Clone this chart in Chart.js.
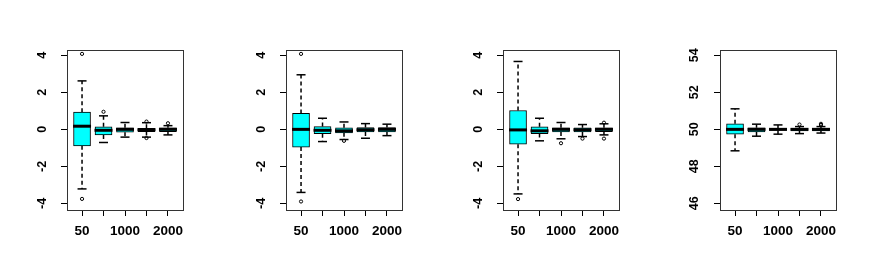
<!DOCTYPE html>
<html>
<head>
<meta charset="utf-8">
<script src="https://cdn.jsdelivr.net/npm/chart.js@4.4.1/dist/chart.umd.min.js"></script>
<style>
body { margin: 0; background: #fff; }
#wrap { position: relative; width: 871px; height: 273px; overflow: hidden; background: #fff; }
canvas { position: absolute; top: 0; }
</style>
</head>
<body>
<div id="wrap">
<canvas id="p1" width="218" height="273" style="left:0px"></canvas>
<canvas id="p2" width="218" height="273" style="left:219px"></canvas>
<canvas id="p3" width="218" height="273" style="left:436px"></canvas>
<canvas id="p4" width="218" height="273" style="left:653px"></canvas>
</div>
<script>
// sample sizes on the x axis (R hides the labels that would overlap)
const categories = [50, 500, 1000, 1500, 2000];
const xTickLabels = ['50', '', '1000', '', '2000'];

const yTicksCentered = [-4, -2, 0, 2, 4];
const yTicksShifted = [46, 48, 50, 52, 54];

// panel 1
const p1Low = [-3.22, -0.71, -0.42, -0.42, -0.30];
const p1Q1 = [-0.89, -0.30, -0.15, -0.12, -0.13];
const p1Median = [0.17, -0.05, 0.0, -0.02, 0.0];
const p1Q3 = [0.93, 0.14, 0.08, 0.06, 0.08];
const p1High = [2.62, 0.73, 0.37, 0.36, 0.20];
const p1Outliers = [[4.08, -3.76], [0.95], [], [0.42, -0.47], [0.33]];

// panel 2
const p2Low = [-3.41, -0.66, -0.55, -0.48, -0.34];
const p2Q1 = [-0.96, -0.24, -0.19, -0.14, -0.14];
const p2Median = [0.0, -0.05, -0.08, -0.02, 0.0];
const p2Q3 = [0.86, 0.15, 0.08, 0.10, 0.10];
const p2High = [2.95, 0.60, 0.40, 0.31, 0.28];
const p2Outliers = [[4.08, -3.90], [], [-0.62], [], []];

// panel 3
const p3Low = [-3.49, -0.62, -0.51, -0.39, -0.30];
const p3Q1 = [-0.80, -0.23, -0.14, -0.14, -0.13];
const p3Median = [-0.03, -0.08, 0.0, -0.02, 0.0];
const p3Q3 = [1.02, 0.14, 0.08, 0.08, 0.08];
const p3High = [3.67, 0.60, 0.37, 0.26, 0.30];
const p3Outliers = [[-3.77], [], [-0.75], [-0.50], [-0.50, 0.36]];

// panel 4
const p4Low = [48.84, 49.63, 49.74, 49.77, 49.80];
const p4Q1 = [49.74, 49.86, 49.94, 49.92, 49.92];
const p4Median = [50.0, 50.0, 50.0, 50.0, 50.0];
const p4Q3 = [50.30, 50.08, 50.05, 50.06, 50.06];
const p4High = [51.11, 50.28, 50.24, 50.15, 50.15];
const p4Outliers = [[], [], [], [50.26], [50.30, 50.24]];

Chart.defaults.font.family = '"Liberation Sans", Arial, sans-serif';
Chart.defaults.color = '#000';

// frame round the plot region, like R's box()
const framePlugin = {
    id: 'frame',
    afterDraw(chart) {
        const a = chart.chartArea;
        const ctx = chart.ctx;
        ctx.save();
        ctx.strokeStyle = '#333';
        ctx.lineWidth = 1;
        ctx.strokeRect(Math.round(a.left) + 0.5, Math.round(a.top) + 0.5,
            Math.round(a.right - a.left), Math.round(a.bottom - a.top));
        ctx.restore();
    }
};

function makePanel(id, low, q1, median, q3, high, outliers, yMin, yMax, yTicks) {
    const pos = categories.map((c, i) => i + 1);

    const whiskers = [];
    pos.forEach((x, i) => {
        whiskers.push({x, y: q3[i]}, {x, y: high[i]}, {x, y: null});
        whiskers.push({x, y: q1[i]}, {x, y: low[i]}, {x, y: null});
    });
    const caps = [];
    pos.forEach((x, i) => {
        caps.push({x, y: high[i]}, {x, y: low[i]});
    });
    const outPts = [];
    pos.forEach((x, i) => {
        outliers[i].forEach(v => outPts.push({x, y: v}));
    });

    return new Chart(document.getElementById(id).getContext('2d'), {
        type: 'bar',
        data: {
            datasets: [{
                // medians
                type: 'scatter',
                data: pos.map((x, i) => ({x, y: median[i]})),
                pointStyle: 'line',
                pointRadius: 9,
                borderColor: '#000',
                pointBorderWidth: 3
            }, {
                // whisker caps
                type: 'scatter',
                data: caps,
                pointStyle: 'line',
                pointRadius: 4.5,
                borderColor: '#000',
                pointBorderWidth: 1.5
            }, {
                // outliers
                type: 'scatter',
                data: outPts,
                pointStyle: 'circle',
                pointRadius: 1.6,
                borderColor: '#000',
                backgroundColor: 'rgba(0,0,0,0)',
                pointBorderWidth: 1
            }, {
                // boxes
                type: 'bar',
                data: pos.map((x, i) => ({x, y: [q1[i], q3[i]]})),
                backgroundColor: '#00FFFF',
                borderColor: '#000',
                borderWidth: 1,
                borderSkipped: false,
                barThickness: 17
            }, {
                // dashed whiskers
                type: 'line',
                data: whiskers,
                borderColor: '#000',
                borderWidth: 1.5,
                borderDash: [4, 3],
                pointRadius: 0,
                spanGaps: false,
                fill: false
            }]
        },
        options: {
            responsive: false,
            animation: false,
            events: [],
            layout: {
                padding: {top: 50, right: 35, left: 0, bottom: 0}
            },
            plugins: {
                legend: {display: false},
                tooltip: {enabled: false}
            },
            scales: {
                x: {
                    type: 'linear',
                    min: 0.3,
                    max: 5.7,
                    offset: false,
                    afterBuildTicks: scale => {
                        scale.ticks = pos.map(v => ({value: v}));
                    },
                    afterFit: scale => { scale.height = 63; },
                    grid: {
                        display: true,
                        drawOnChartArea: false,
                        drawTicks: true,
                        tickLength: 6,
                        color: '#000',
                        offset: false
                    },
                    border: {display: false},
                    ticks: {
                        autoSkip: false,
                        maxRotation: 0,
                        minRotation: 0,
                        padding: 7,
                        font: {size: 13.5, weight: 'bold'},
                        callback: (v, i) => xTickLabels[i]
                    }
                },
                y: {
                    type: 'linear',
                    min: yMin,
                    max: yMax,
                    afterBuildTicks: scale => {
                        scale.ticks = yTicks.map(v => ({value: v}));
                    },
                    afterFit: scale => { scale.width = 67; },
                    grid: {
                        display: true,
                        drawOnChartArea: false,
                        drawTicks: true,
                        tickLength: 6,
                        color: '#000'
                    },
                    border: {display: false},
                    ticks: {
                        minRotation: 90,
                        maxRotation: 90,
                        crossAlign: 'center',
                        padding: 13,
                        font: {size: 12.5, weight: 'bold'}
                    }
                }
            }
        },
        plugins: [framePlugin]
    });
}

makePanel('p1', p1Low, p1Q1, p1Median, p1Q3, p1High, p1Outliers, -4.36, 4.29, yTicksCentered);
makePanel('p2', p2Low, p2Q1, p2Median, p2Q3, p2High, p2Outliers, -4.36, 4.29, yTicksCentered);
makePanel('p3', p3Low, p3Q1, p3Median, p3Q3, p3High, p3Outliers, -4.36, 4.29, yTicksCentered);
makePanel('p4', p4Low, p4Q1, p4Median, p4Q3, p4High, p4Outliers, 45.64, 54.29, yTicksShifted);
</script>
</body>
</html>
